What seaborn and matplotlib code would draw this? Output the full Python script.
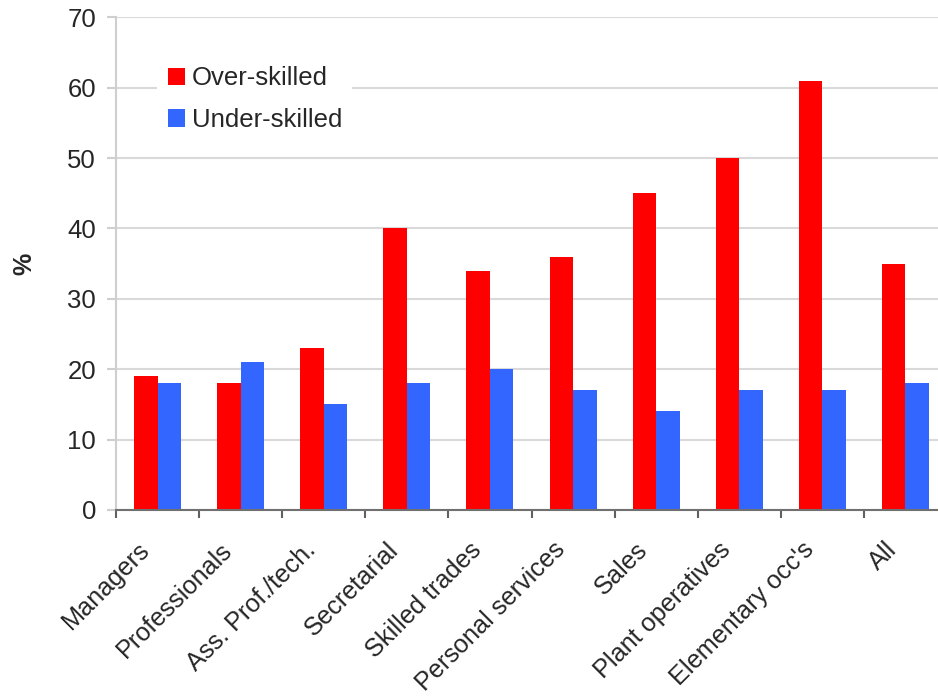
import numpy as np
import pandas as pd
import matplotlib
matplotlib.use('Agg')
import matplotlib.pyplot as plt
import matplotlib.transforms as mtransforms
import seaborn as sns

categories = ['Managers', 'Professionals', 'Ass. Prof./tech.', 'Secretarial', 'Skilled trades',
              'Personal services', 'Sales', 'Plant operatives', "Elementary occ's", 'All']
over_skilled = [19, 18, 23, 40, 34, 36, 45, 50, 61, 35]
under_skilled = [18, 21, 15, 18, 20, 17, 14, 17, 17, 18]
series = ['Over-skilled', 'Under-skilled']

df = pd.DataFrame({
    'occupation': categories * 2,
    'pct': over_skilled + under_skilled,
    'group': [series[0]] * len(categories) + [series[1]] * len(categories),
})

sns.set_style('white')
plt.rcParams['font.family'] = ['Liberation Sans', 'DejaVu Sans']

fig = plt.figure(figsize=(9.38, 6.97), dpi=100)
ax = fig.add_axes([0.1237, 0.2683, 0.8859, 0.7069])

sns.barplot(data=df, x='occupation', y='pct', hue='group', order=categories,
            hue_order=series, palette=['#ff0000', '#3366ff'], width=0.565,
            gap=0, saturation=1, linewidth=0, ax=ax)

ax.set_xlim(-0.5, len(categories) - 0.5)
ax.set_ylim(0, 70)
ax.set_yticks(range(0, 71, 10))
ax.yaxis.grid(True, color='#d9d9d9', linewidth=1.5)
ax.set_axisbelow(True)

for side in ['top', 'right']:
    ax.spines[side].set_visible(False)
ax.spines['left'].set_color('#cfcfcf')
ax.spines['left'].set_linewidth(1.5)
ax.spines['bottom'].set_color('#707070')
ax.spines['bottom'].set_linewidth(1.5)

ax.tick_params(axis='y', which='major', length=6.5, width=1.5, color='#cfcfcf',
               pad=8, labelsize=18.5, left=True)
# category boundaries get the tick marks, centres carry the labels
ax.set_xticks(np.arange(-0.5, len(categories) - 0.5, 1), minor=True)
ax.tick_params(axis='x', which='minor', length=6, width=1.5, color='#606060', bottom=True)
ax.tick_params(axis='x', which='major', length=0, pad=26, labelsize=18.2)
ax.set_xticks(range(len(categories)))
ax.set_xticklabels(categories, rotation=45, ha='right', va='center', rotation_mode='anchor')
offset = mtransforms.ScaledTranslation(-12 / 100, 0, fig.dpi_scale_trans)
for lab in ax.get_xticklabels():
    lab.set_transform(lab.get_transform() + offset)

ax.set_xlabel('')
ax.set_ylabel('%', fontsize=18, fontweight='bold')
ax.yaxis.set_label_coords(-0.096, 0.5)

old = ax.get_legend()
handles = old.legend_handles
labels = [t.get_text() for t in old.get_texts()]
old.remove()
leg = ax.legend(handles, labels, loc='upper left', bbox_to_anchor=(0.0497, 0.921),
                borderaxespad=0, fontsize=18.5, frameon=True, facecolor='white',
                edgecolor='none', framealpha=1, fancybox=False, handlelength=0.68,
                handleheight=0.68, handletextpad=0.25, labelspacing=0.68, borderpad=0.4)

fig.savefig('out.png', dpi=100)
